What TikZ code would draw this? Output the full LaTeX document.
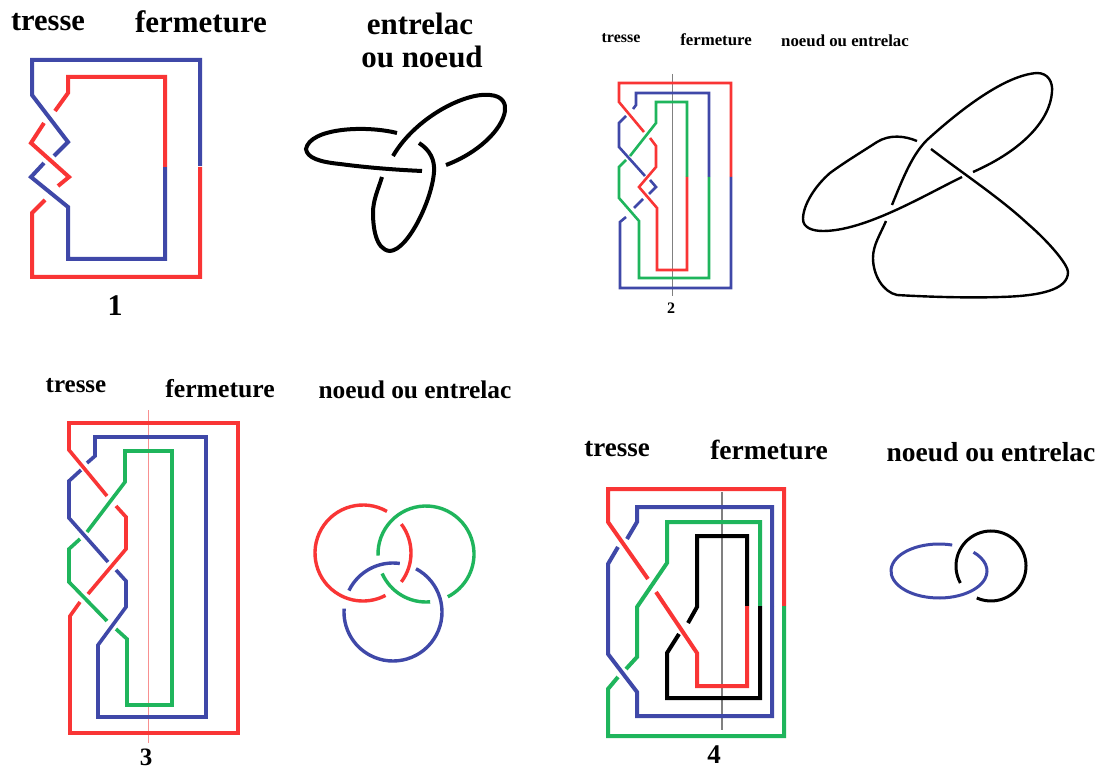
\documentclass[tikz,border=0pt]{standalone}
\usepackage{fontspec}
\setmainfont{Liberation Serif}
\definecolor{rouge}{HTML}{F93535}
\definecolor{bleu}{HTML}{3F48A8}
\definecolor{vert}{HTML}{1FB55C}
\definecolor{axe}{HTML}{F89090}
\tikzset{
  titre/.style={font=\bfseries\fontsize{#1}{#1}\selectfont,inner sep=0pt},
  brin/.style={line cap=butt,line join=miter},
}
\begin{document}
\begin{tikzpicture}[x=1pt,y=-1pt]
    \useasboundingbox (0,0) rectangle (1101,770);
    \fill[white] (0,0) rectangle (1101,770);
    % 1
    \node[titre=30.5] (tresseA) at (48,22.5) {tresse};
    \node[titre=31] (fermA) at (201,21.5) {fermeture};
    \node[titre=31] (entrelacA) at (420,24) {entrelac};
    \node[titre=31] (noeudA) at (422,57) {ou noeud};
    \node[titre=30] (numA) at (115,306) {1};
    \begin{scope}[brin,line width=4pt]
    \draw[bleu] (200,166) -- (200,60) -- (32,60) -- (32,95) -- (68,142) -- (54,156);
    \draw[bleu] (44,163) -- (31,177) -- (68,207) -- (68,259) -- (165,259) -- (165,167);
    \draw[rouge] (165,167) -- (165,77) -- (68,77) -- (68,93) -- (55,111);
    \draw[rouge] (44,123) -- (31,143) -- (69,177) -- (58,186);
    \draw[rouge] (45,200) -- (32,213) -- (32,277) -- (200,277) -- (200,167);
    \end{scope}
    \begin{scope}[line width=4pt]
    \draw (397,133) .. controls (365,125) and (310,128) .. (306,149) .. controls (307,158) and (320,162) .. (340,164) .. controls (370,168) and (400,170) .. (422,171);
    \draw (393,156) .. controls (415,118) and (465,92) .. (490,95) .. controls (503,96) and (506,104) .. (505,111) .. controls (502,130) and (478,153) .. (446,165);
    \draw (419,143) .. controls (430,150) and (435,160) .. (434,172) .. controls (432,200) and (408,250) .. (390,251) .. controls (375,250) and (373,225) .. (373,213) .. controls (373,200) and (378,190) .. (382,177);
    \end{scope}
    % 2
    \node[titre=16] (tresseB) at (621,38) {tresse};
    \node[titre=16.8] (fermB) at (716,40) {fermeture};
    \node[titre=16.8] (noeudB) at (845,41) {noeud ou entrelac};
    \node[titre=16] (numB) at (671,308) {2};
    \draw[gray,line width=1pt] (672,74) -- (672,296);
    \begin{scope}[brin,line width=2.6pt]
    \draw[rouge] (731,177) -- (731,83) -- (619,83) -- (619,102) -- (644,132);
    \draw[bleu] (709,177) -- (709,93) -- (636,93) -- (636,105) -- (633,109);
    \draw[bleu] (626,116) -- (619,123) -- (619,147) -- (645,176);
    \draw[bleu] (650,180) -- (656,187) -- (649,194);
    \draw[bleu] (643,199) -- (634,208);
    \draw[bleu] (626,217) -- (620,222) -- (620,288) -- (731,288) -- (731,177);
    \draw[vert] (687,177) -- (687,102) -- (656,102) -- (656,123) -- (630,156);
    \draw[vert] (626,160) -- (619,167) -- (619,198) -- (639,221) -- (639,278) -- (709,278) -- (709,177);
    \draw[rouge] (650,138) -- (656,146) -- (656,167) -- (639,187) -- (657,208) -- (657,270) -- (687,270) -- (687,177);
    \end{scope}
    \begin{scope}[line width=2.4pt]
    \draw (917,141) .. controls (905,136) and (890,134) .. (877,142) .. controls (860,153) and (845,162) .. (830,173) .. controls (815,186) and (803,205) .. (803,219) .. controls (803,228) and (813,231) .. (823,231) .. controls (865,231) and (925,195) .. (962,177);
    \draw (892,205) .. controls (903,178) and (912,155) .. (927,140) .. controls (960,110) and (1005,75) .. (1037,73) .. controls (1048,73) and (1053,82) .. (1052,92) .. controls (1050,120) and (1023,150) .. (973,172);
    \draw (931,149) .. controls (965,175) and (1000,198) .. (1028,224) .. controls (1050,243) and (1068,265) .. (1068,272) .. controls (1068,290) and (1040,296) .. (1000,297) .. controls (970,298) and (930,297) .. (897,295) .. controls (883,292) and (873,275) .. (873,258) .. controls (873,245) and (880,235) .. (886,221);
    \end{scope}
    % 3
    \node[titre=25] (tresseC) at (76,386) {tresse};
    \node[titre=25.7] (fermC) at (220,389) {fermeture};
    \node[titre=25.4] (noeudC) at (415,390) {noeud ou entrelac};
    \node[titre=25] (numC) at (146,757) {3};
    \draw[axe,line width=1pt] (148,410) -- (148,743);
    \begin{scope}[brin,line width=3.6pt]
    \draw[rouge] (238,578) -- (238,423) -- (69,423) -- (69,450) -- (107,496);
    \draw[bleu] (206,578) -- (206,437) -- (95,437) -- (95,456) -- (87,463);
    \draw[bleu] (81,470) -- (69,481) -- (69,518) -- (108,562);
    \draw[bleu] (116,570) -- (126,581) -- (126,607) -- (98,645) -- (98,717) -- (206,717) -- (206,578);
    \draw[vert] (172,578) -- (172,451) -- (125,451) -- (125,482) -- (87,532);
    \draw[vert] (80,539) -- (69,549) -- (69,582) -- (107,621);
    \draw[vert] (116,629) -- (127,639) -- (127,705) -- (172,705) -- (172,578);
    \draw[rouge] (116,506) -- (126,517) -- (126,549) -- (88,594);
    \draw[rouge] (80,602) -- (70,616) -- (70,733) -- (238,733) -- (238,578);
    \end{scope}
    \coordinate (centreR) at (363,553);
    \coordinate (centreV) at (426,554);
    \coordinate (centreB) at (393,612);
    \begin{scope}[line width=3.4pt]
    \draw[rouge] ([shift={(60:48pt)}]centreR) arc[start angle=60,end angle=298,radius=48pt];
    \draw[rouge] ([shift={(-37:48pt)}]centreR) arc[start angle=-37,end angle=37,radius=48pt];
    \draw[vert] ([shift={(182:48pt)}]centreV) arc[start angle=182,end angle=-63,radius=48pt];
    \draw[vert] ([shift={(204:48pt)}]centreV) arc[start angle=204,end angle=275,radius=48pt];
    \draw[bleu] ([shift={(82:49pt)}]centreB) arc[start angle=82,end angle=154,radius=49pt];
    \draw[bleu] ([shift={(62:49pt)}]centreB) arc[start angle=62,end angle=-184,radius=49pt];
    \end{scope}
    % 4
    \node[titre=27] (tresseD) at (617,449) {tresse};
    \node[titre=27.6] (fermD) at (769,450) {fermeture};
    \node[titre=27.5] (noeudD) at (991,452) {noeud ou entrelac};
    \node[titre=27] (numD) at (714,755) {4};
    \draw[gray,line width=1.3pt] (722,492) -- (722,730);
    \begin{scope}[brin,line width=4pt]
    \draw[rouge] (784,606) -- (784,489) -- (608,489) -- (608,522) -- (648,579);
    \draw[bleu] (772,606) -- (772,507) -- (637,507) -- (637,522) -- (627,539);
    \draw[bleu] (618,547) -- (608,564) -- (608,654) -- (637,692) -- (637,716) -- (772,716) -- (772,606);
    \draw[vert] (760,606) -- (760,522) -- (667,522) -- (667,563) -- (637,607) -- (637,657) -- (626,669);
    \draw[vert] (618,677) -- (608,689) -- (608,736) -- (784,736) -- (784,606);
    \draw (747,606) -- (747,536) -- (697,536) -- (697,607) -- (688,623);
    \draw (679,634) -- (667,653) -- (667,698) -- (760,698) -- (760,606);
    \draw[rouge] (656,592) -- (697,653) -- (697,686) -- (747,686) -- (747,606);
    \end{scope}
    \coordinate (centreN) at (991,566);
    \coordinate (centreE) at (939,571);
    \begin{scope}[line width=3pt]
    \draw ([shift={(209:35pt)}]centreN) arc[start angle=209,end angle=-114,radius=35pt];
    \draw[bleu] ([shift={(74:48pt and 27pt)}]centreE) arc[start angle=74,end angle=404,x radius=48pt,y radius=27pt];
    \end{scope}
\end{tikzpicture}
\end{document}
